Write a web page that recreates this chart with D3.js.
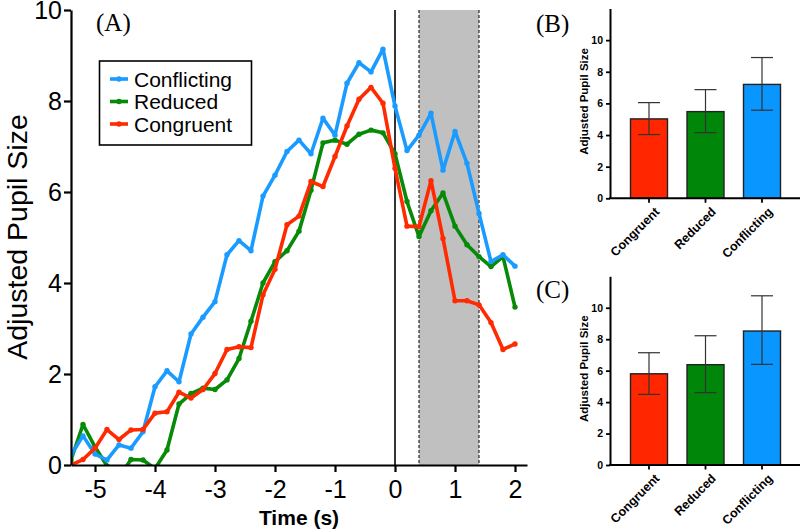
<!DOCTYPE html>
<html><head><meta charset="utf-8">
<script src="https://cdn.jsdelivr.net/npm/d3@7"></script>
<style>body{margin:0;background:#fff}svg{display:block}</style>
</head><body>
<svg id="chart" width="800" height="531"></svg>
<script>
// ---------- data ----------
const timeS = [-5.4,-5.2,-5.0,-4.8,-4.6,-4.4,-4.2,-4.0,-3.8,-3.6,-3.4,-3.2,-3.0,-2.8,-2.6,-2.4,-2.2,-2.0,-1.8,-1.6,-1.4,-1.2,-1.0,-0.8,-0.6,-0.4,-0.2,0.0,0.2,0.4,0.6,0.8,1.0,1.2,1.4,1.6,1.8,2.0];
const conflicting = [0.22,0.64,0.24,0.11,0.44,0.37,0.73,1.72,2.07,1.83,2.88,3.25,3.59,4.62,4.93,4.71,5.91,6.37,6.89,7.14,6.84,7.62,7.25,8.39,8.84,8.64,9.14,7.89,6.91,7.25,7.73,6.48,7.33,6.63,5.53,4.47,4.62,4.37];
const reduced = [0.11,0.89,0.40,-0.02,-0.27,0.12,0.11,-0.08,0.33,1.34,1.57,1.69,1.66,1.87,2.34,3.16,4.00,4.47,4.71,5.14,6.04,7.08,7.14,7.05,7.27,7.36,7.30,6.84,5.79,5.02,5.59,5.98,5.25,4.84,4.58,4.36,4.58,3.47];
const congruent = [0.00,0.12,0.37,0.78,0.56,0.77,0.78,1.14,1.17,1.60,1.47,1.66,2.01,2.54,2.60,2.58,3.74,4.30,5.28,5.47,6.23,6.12,6.78,7.45,8.04,8.30,7.95,6.52,5.25,5.24,6.25,4.98,3.61,3.61,3.52,3.13,2.54,2.66];
const seriesNames = ["Conflicting","Reduced","Congruent"];
const xTicks = [-5,-4,-3,-2,-1,0,1,2];
const yTicks = [0,2,4,6,8,10];
const stimWindow = [0.4, 1.4];

const barCategories = ["Congruent","Reduced","Conflicting"];
const meanB = [5.02, 5.48, 7.20];
const lowB  = [4.03, 4.15, 5.57];
const highB = [6.05, 6.87, 8.90];
const meanC = [5.80, 6.38, 8.52];
const lowC  = [4.49, 4.60, 6.40];
const highC = [7.14, 8.22, 10.76];
const barYTicks = [0,2,4,6,8,10];

// ---------- styles ----------
const lineColor = {Conflicting:"#1a9bff", Reduced:"#078a07", Congruent:"#ff2a00"};
const barColor  = {Conflicting:"#0a96ff", Reduced:"#00870a", Congruent:"#ff2600"};
const SANS = "'Liberation Sans', Arial, sans-serif";
const SERIF = "'Liberation Serif', 'Times New Roman', serif";

const svg = d3.select("#chart");

// ---------- panel A ----------
const x = d3.scaleLinear().domain([-5.4, 2.2]).range([71, 527]);
const y = d3.scaleLinear().domain([0, 10]).range([465, 10]);

svg.append("rect")
  .attr("x", x(stimWindow[0])).attr("y", y(10))
  .attr("width", x(stimWindow[1]) - x(stimWindow[0]))
  .attr("height", y(0) - y(10))
  .attr("fill", "#c0c0c0");
stimWindow.forEach(t => {
  svg.append("line").attr("x1", x(t)).attr("x2", x(t)).attr("y1", y(10)).attr("y2", y(0))
    .attr("stroke", "#000").attr("stroke-width", 1).attr("stroke-dasharray", "3,2");
});
svg.append("line").attr("x1", x(0)).attr("x2", x(0)).attr("y1", y(10)).attr("y2", y(0))
  .attr("stroke", "#000").attr("stroke-width", 1.6);

svg.append("clipPath").attr("id", "plotClip").append("rect")
  .attr("x", 71).attr("y", 0).attr("width", 460).attr("height", y(0));

const seriesData = {Conflicting: conflicting, Reduced: reduced, Congruent: congruent};
const drawOrder = ["Reduced", "Conflicting", "Congruent"];
const lineGen = d3.line().x((d, i) => x(timeS[i])).y(d => y(d));
const plotG = svg.append("g").attr("clip-path", "url(#plotClip)");
drawOrder.forEach(name => {
  const vals = seriesData[name];
  plotG.append("path").datum(vals).attr("d", lineGen)
    .attr("fill", "none").attr("stroke", lineColor[name])
    .attr("stroke-width", 3.6).attr("stroke-linejoin", "round");
  plotG.selectAll(null).data(vals).enter().append("circle")
    .attr("cx", (d, i) => x(timeS[i])).attr("cy", d => y(d)).attr("r", 2.7)
    .attr("fill", lineColor[name]);
});

const xAxis = svg.append("g").attr("transform", `translate(0,${y(0)})`)
  .call(d3.axisBottom(x).tickValues(xTicks).tickSize(7).tickPadding(8).tickSizeOuter(0).tickFormat(d => String(d)));
const yAxis = svg.append("g").attr("transform", `translate(${x(-5.4)},0)`)
  .call(d3.axisLeft(y).tickValues(yTicks).tickSize(7).tickPadding(2).tickSizeOuter(0).tickFormat(d => String(d)));
[xAxis, yAxis].forEach(g => {
  g.select(".domain").attr("stroke", "#000").attr("stroke-width", 2.2);
  g.selectAll(".tick line").attr("stroke", "#000").attr("stroke-width", 2.2);
  g.selectAll(".tick text").attr("fill", "#000").style("font-family", SANS).style("font-size", "25px");
});

svg.append("text").attr("x", 96).attr("y", 31).text("(A)")
  .style("font-family", SERIF).style("font-size", "25px").attr("fill", "#000");
svg.append("text").attr("transform", "translate(26.5,237) rotate(-90)").attr("text-anchor", "middle")
  .text("Adjusted Pupil Size").style("font-family", SANS).style("font-size", "28.5px").attr("fill", "#000");
svg.append("text").attr("x", 299).attr("y", 525).attr("text-anchor", "middle")
  .text("Time (s)").style("font-family", SANS).style("font-size", "21px").style("font-weight", "bold").attr("fill", "#000");

// legend
const leg = svg.append("g");
leg.append("rect").attr("x", 99.5).attr("y", 61).attr("width", 152).attr("height", 84)
  .attr("fill", "#fff").attr("stroke", "#000").attr("stroke-width", 1.6);
seriesNames.forEach((name, i) => {
  const cy = 79 + i * 22.5;
  leg.append("line").attr("x1", 110).attr("x2", 128).attr("y1", cy).attr("y2", cy)
    .attr("stroke", lineColor[name]).attr("stroke-width", 3.6);
  leg.append("circle").attr("cx", 119).attr("cy", cy).attr("r", 2.7).attr("fill", lineColor[name]);
  leg.append("text").attr("x", 134).attr("y", cy + 7.5).text(name)
    .style("font-family", SANS).style("font-size", "21px").attr("fill", "#000");
});

// ---------- panels B & C ----------
function barPanel(y0, yTop, means, lows, highs, tag, tagY) {
  const yb = d3.scaleLinear().domain([0, 12]).range([y0, yTop]);
  const xb = d3.scalePoint().domain(barCategories).range([649, 762]);
  const g = svg.append("g");
  const bw = 37;
  g.selectAll("rect.bar").data(barCategories).enter().append("rect")
    .attr("x", c => xb(c) - bw / 2).attr("width", bw)
    .attr("y", (c, i) => yb(means[i])).attr("height", (c, i) => y0 - yb(means[i]))
    .attr("fill", c => barColor[c]).attr("stroke", "#222").attr("stroke-width", 1.4);
  barCategories.forEach((c, i) => {
    const cx = xb(c);
    g.append("line").attr("x1", cx).attr("x2", cx).attr("y1", yb(lows[i])).attr("y2", yb(highs[i]))
      .attr("stroke", "#333").attr("stroke-width", 1.2);
    [lows[i], highs[i]].forEach(v => {
      g.append("line").attr("x1", cx - 11).attr("x2", cx + 11).attr("y1", yb(v)).attr("y2", yb(v))
        .attr("stroke", "#333").attr("stroke-width", 1.2);
    });
    g.append("line").attr("x1", cx).attr("x2", cx).attr("y1", y0).attr("y2", y0 + 4.5)
      .attr("stroke", "#000").attr("stroke-width", 1.8);
    g.append("text").attr("transform", `translate(${cx + 5},${y0 + 8}) rotate(-45)`)
      .attr("text-anchor", "end").attr("dy", "0.71em").text(c)
      .style("font-family", SANS).style("font-size", "12.5px").style("font-weight", "bold").attr("fill", "#000");
  });
  g.append("line").attr("x1", 609).attr("x2", 800).attr("y1", y0).attr("y2", y0)
    .attr("stroke", "#000").attr("stroke-width", 2);
  const ya = g.append("g").attr("transform", "translate(610,0)")
    .call(d3.axisLeft(yb).tickValues(barYTicks).tickSize(4).tickPadding(3).tickSizeOuter(0));
  ya.select(".domain").attr("stroke", "#000").attr("stroke-width", 2);
  ya.selectAll(".tick line").attr("stroke", "#000").attr("stroke-width", 1.8);
  ya.selectAll(".tick text").attr("fill", "#000").style("font-family", SANS)
    .style("font-size", "10.5px").style("font-weight", "bold");
  g.append("text").attr("transform", `translate(588,${(y0 + yTop) / 2 - 2}) rotate(-90)`)
    .attr("text-anchor", "middle").text("Adjusted Pupil Size")
    .style("font-family", SANS).style("font-size", "11.5px").style("font-weight", "bold").attr("fill", "#000");
  g.append("text").attr("x", 536).attr("y", tagY).text(tag)
    .style("font-family", SERIF).style("font-size", "25px").attr("fill", "#000");
}
barPanel(198.3, 8.5, meanB, lowB, highB, "(B)", 32);
barPanel(465, 276.3, meanC, lowC, highC, "(C)", 298);
</script>
</body></html>
